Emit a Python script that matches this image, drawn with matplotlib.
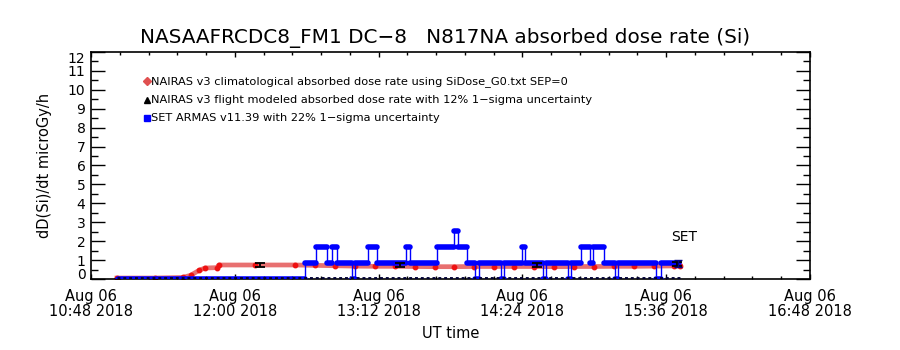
import matplotlib
matplotlib.use('Agg')
import matplotlib.pyplot as plt
import matplotlib.dates as mdates
from matplotlib.ticker import MultipleLocator
import pandas as pd

plt.rcParams['font.family'] = ['DejaVu Sans']

DAY = '2018-08-06 '

# SET ARMAS dose rate, as runs: start time of each run and its level
blue_start = ['11:01:30', '12:35:00', '12:40:30', '12:46:00', '12:48:30', '12:51:00',
              '12:58:30', '13:00:00', '13:06:30', '13:11:00', '13:25:30', '13:27:30',
              '13:41:00', '13:50:00', '13:52:00', '13:56:30', '14:00:30', '14:02:30',
              '14:13:30', '14:15:00', '14:24:00', '14:25:30', '14:34:30', '14:36:00',
              '14:47:00', '14:48:30', '14:53:30', '14:58:00', '14:59:30', '15:05:00',
              '15:10:30', '15:12:00', '15:31:00', '15:33:30']
blue_end = '15:42:30'
blue_level = [0, 0.84, 1.68, 0.84, 1.68, 0.84,
              0, 0.84, 1.68, 0.84, 1.68, 0.84,
              1.68, 2.52, 1.68, 0.84, 0, 0.84,
              0, 0.84, 1.68, 0.84, 0, 0.84,
              0, 0.84, 1.68, 0.84, 1.68, 0.84,
              0, 0.84, 0, 0.84]

# NAIRAS climatological
red_times = ['11:01', '11:20', '11:34', '11:38', '11:42', '11:45', '11:51', '11:52',
             '12:10', '12:30', '12:40', '12:50', '13:00', '13:10', '13:20', '13:30',
             '13:40', '13:50', '14:00', '14:10', '14:20', '14:30', '14:40', '14:50',
             '15:00', '15:10', '15:20', '15:30', '15:40', '15:43']
red_vals = [0.05, 0.05, 0.08, 0.20, 0.45, 0.58, 0.60, 0.74,
            0.74, 0.74, 0.72, 0.70, 0.68, 0.67, 0.67, 0.66,
            0.65, 0.65, 0.66, 0.66, 0.66, 0.66, 0.65, 0.66,
            0.66, 0.67, 0.67, 0.68, 0.69, 0.69]

# NAIRAS flight modeled
black_times = ['11:01', '11:30', '12:00', '12:30', '13:00', '13:30', '14:00',
               '14:30', '15:00', '15:30', '15:43']
black_vals = [0, 0, 0, 0, 0, 0, 0, 0, 0, 0, 0]

# uncertainty bars
err_times = ['12:12:30', '13:22:30', '14:31:30', '15:41:30']
err_vals = [0.74, 0.74, 0.74, 0.80]
err_size = [0.12, 0.12, 0.12, 0.12]
set_err_time = ['15:42:00']
set_err_val = [0.84]
set_err_size = [0.18]

legend_labels = ['NAIRAS v3 climatological absorbed dose rate using SiDose_G0.txt SEP=0',
                 'NAIRAS v3 flight modeled absorbed dose rate with 12% 1\u2212sigma uncertainty',
                 'SET ARMAS v11.39 with 22% 1\u2212sigma uncertainty']


def tt(lst):
    return [pd.Timestamp(DAY + s).to_pydatetime() for s in lst]


fig = plt.figure(figsize=(9, 3.5), dpi=100)
fig.subplots_adjust(left=0.1011, right=0.9, bottom=0.2029, top=0.8514)
ax = fig.add_subplot(111)

# blue series
bt = tt(blue_start + [blue_end])
ax.step(bt, blue_level + [blue_level[-1]], where='post', color='#0000ff', lw=1.0, zorder=3)
hl = ax.hlines(blue_level, bt[:-1], bt[1:], color='#0000ff', lw=4.0, zorder=3)
hl.set_capstyle('round')

# red series
ax.plot(tt(red_times), red_vals, color='#e87070', lw=3.4, zorder=2,
        marker='o', ms=3.2, mfc='#ee1111', mec='#ee1111')

# black series
ax.plot(tt(black_times), black_vals, color='#000033', lw=3.5, ls=(0, (0.6, 0.6)), zorder=4)

ax.errorbar(tt(err_times), err_vals, yerr=err_size, fmt='none', ecolor='black',
            elinewidth=1.3, capsize=3.5, capthick=1.3, zorder=5)
ax.errorbar(tt(set_err_time), set_err_val, yerr=set_err_size, fmt='none', ecolor='#000088',
            elinewidth=1.0, capsize=3, capthick=1.0, zorder=5)

ax.text(tt(['15:38:30'])[0], 2.2, 'SET', fontsize=10, va='center', ha='left')

# legend
leg_y = [0.872, 0.789, 0.709]
leg_style = [dict(marker='D', color='#e05050', ms=4.5),
             dict(marker='^', color='black', ms=5),
             dict(marker='s', color='#0000ff', ms=5)]
for lab, y, st in zip(legend_labels, leg_y, leg_style):
    ax.plot([0.078], [y], transform=ax.transAxes, ls='none', clip_on=False, **st)
    ax.text(0.084, y, lab, transform=ax.transAxes, fontsize=8.2, va='center', ha='left')

# axes
ax.set_xlim(tt(['10:48'])[0], tt(['16:48'])[0])
ax.set_ylim(0, 12)
ax.xaxis.set_major_locator(MultipleLocator(0.05))
ax.xaxis.set_minor_locator(MultipleLocator(0.01))
ax.xaxis.set_major_formatter(mdates.DateFormatter('%b %d\n%H:%M %Y'))
ax.set_yticks(range(13))
ax.set_yticklabels([str(i) for i in range(13)])
ax.yaxis.set_minor_locator(MultipleLocator(0.5))

ax.tick_params(direction='in', top=True, right=True, which='both', width=1)
ax.tick_params(axis='x', which='major', length=3.8, pad=7, labelsize=10.5)
ax.tick_params(axis='x', which='minor', length=2)
ax.tick_params(axis='y', which='major', length=10, pad=4, labelsize=10)
ax.tick_params(axis='y', which='minor', length=5)
for lbl in ax.get_xticklabels():
    lbl.set_linespacing(1.0)
ylbls = ax.get_yticklabels()
ylbls[0].set_va('baseline')
ylbls[-1].set_va('top')
for s in ax.spines.values():
    s.set_linewidth(1.2)

ax.set_ylabel('dD(Si)/dt microGy/h', fontsize=10.5)
ax.yaxis.set_label_coords(-0.054, 0.5)
ax.set_xlabel('UT time', fontsize=10.5)
ax.xaxis.set_label_coords(0.5, -0.205)

fig.text(445 / 900, 1 - 38 / 350, 'NASAAFRCDC8_FM1 DC\u22128   N817NA absorbed dose rate (Si)',
         fontsize=14.4, ha='center', va='center')

fig.savefig('out.png', dpi=100)
